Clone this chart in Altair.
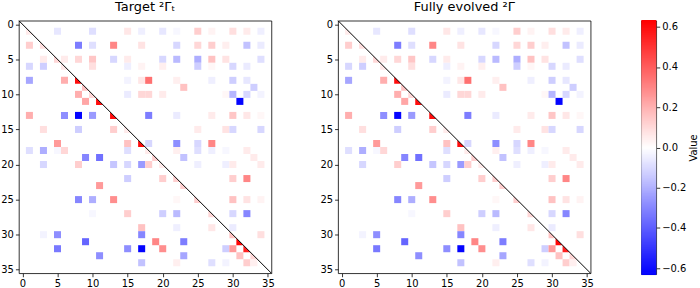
import altair as alt
import numpy as np
import pandas as pd

N = 36  # matrix dimension
FONT = "DejaVu Sans"

# Non-zero matrix elements: row index, column index, value
cell_rows = [
    1, 1, 1, 1, 1, 1, 1, 1, 1, 1, 1, 1,
    3, 3, 3, 3, 3, 3, 3, 3, 3, 3, 3, 3,
    5, 5, 5, 5, 5, 5, 5, 5, 5, 5, 5, 5, 5,
    6, 6, 6, 6, 6, 6, 6, 6, 6, 6, 6,
    8, 8, 8, 8, 8, 8, 8, 8, 8, 8,
    9, 9, 9,
    10, 10, 10, 10, 10, 10, 10, 10, 10, 10,
    11, 11, 11,
    13, 13, 13, 13, 13, 13, 13, 13, 13, 13, 13,
    15, 15, 15, 15, 15, 15, 15, 15,
    17, 17, 17, 17, 17, 17, 17,
    18, 18, 18, 18, 18, 18, 18, 18, 18, 18, 18,
    19, 19, 19, 19, 19,
    20, 20, 20, 20, 20, 20, 20, 20, 20, 20, 20,
    22, 22, 22, 22, 22,
    23, 23,
    25, 25, 25, 25, 25, 25, 25, 25,
    27, 27, 27, 27, 27, 27, 27,
    29, 29, 29, 29,
    30, 30, 30, 30, 30,
    31, 31, 31, 31,
    32, 32, 32, 32, 32, 32, 32,
    33, 33, 33, 33,
    34, 34, 34, 34, 34, 34,
]
cell_cols = [
    1, 5, 10, 15, 17, 20, 22, 25, 27, 30, 32, 34,
    1, 3, 8, 10, 13, 17, 22, 25, 27, 29, 32, 34,
    3, 5, 6, 8, 10, 13, 15, 20, 22, 25, 27, 29, 34,
    1, 3, 6, 10, 15, 17, 20, 25, 27, 30, 32,
    1, 6, 8, 15, 17, 18, 22, 27, 30, 32,
    9, 23, 33,
    8, 10, 15, 17, 18, 20, 29, 30, 32, 34,
    9, 11, 31,
    1, 6, 8, 10, 13, 18, 22, 27, 30, 32, 34,
    3, 8, 13, 15, 25, 29, 30, 34,
    5, 15, 17, 18, 22, 25, 27,
    1, 3, 5, 6, 15, 18, 22, 25, 27, 29, 32,
    9, 11, 19, 23, 33,
    3, 8, 13, 15, 17, 18, 20, 25, 29, 30, 34,
    15, 20, 22, 30, 32,
    11, 23,
    8, 10, 13, 22, 25, 30, 32, 34,
    10, 15, 20, 22, 27, 30, 32,
    17, 22, 27, 30,
    3, 5, 17, 30, 34,
    9, 19, 23, 31,
    5, 15, 17, 20, 29, 30, 32,
    11, 23, 31, 33,
    17, 22, 27, 29, 32, 33,
]
target_values = [
    0.05, -0.06, -0.08, 0.06, -0.04, -0.06, -0.02, 0.12, 0.03, 0.08, 0.05, -0.04,
    0.12, 0.08, -0.32, -0.08, 0.30, 0.07, -0.10, 0.10, 0.12, 0.04, -0.15, -0.05,
    0.05, 0.10, 0.05, 0.10, 0.14, -0.10, 0.05, -0.10, -0.17, -0.20, 0.15, 0.07, -0.08,
    -0.10, -0.12, 0.06, 0.08, -0.04, 0.03, 0.04, -0.12, 0.02, -0.10, -0.05,
    -0.22, 0.20, 0.60, -0.03, 0.06, 0.35, 0.04, -0.04, -0.12, -0.06,
    0.15, 0.15, -0.12,
    0.20, 0.10, -0.05, 0.10, 0.10, 0.05, 0.02, -0.18, -0.10, -0.03,
    0.22, 0.60, -0.62,
    0.20, -0.28, -0.62, -0.25, 0.60, -0.32, -0.05, 0.05, 0.14, 0.06, 0.02,
    0.08, -0.12, 0.12, 0.05, 0.05, 0.07, -0.10, -0.10,
    0.25, 0.15, 0.60, -0.10, -0.28, -0.10, 0.30,
    -0.08, -0.20, -0.02, 0.10, -0.08, 0.05, 0.04, -0.08, -0.04, -0.02, 0.05,
    -0.30, -0.35, 0.12, -0.15, 0.05,
    -0.10, 0.12, -0.14, -0.10, -0.25, 0.12, 0.05, -0.04, -0.04, 0.05, 0.05,
    -0.12, 0.12, 0.12, 0.12, 0.30,
    0.25, 0.12,
    -0.30, -0.20, 0.28, 0.02, 0.12, 0.15, 0.07, 0.03,
    -0.02, 0.12, -0.12, -0.17, 0.10, -0.10, -0.30,
    0.15, -0.04, 0.06, -0.05,
    -0.03, -0.28, -0.30, 0.15, 0.08,
    -0.38, 0.30, -0.32, 0.62,
    -0.33, -0.28, -0.62, 0.28, -0.12, 0.25, 0.55,
    -0.28, -0.22, 0.15, 0.10,
    -0.15, 0.04, -0.08, -0.03, 0.12, 0.04,
]
# the evolved matrix agrees with the target to plotting precision
evolved_values = list(target_values)

titles = ["Target ²Γₜ", "Fully evolved ²Γ"]
tick_values = [0, 5, 10, 15, 20, 25, 30, 35]
cbar_ticks = [-0.6, -0.4, -0.2, 0.0, 0.2, 0.4, 0.6]
vlim = 0.63

PANEL = 254
CELL = PANEL / N

color_scale = alt.Scale(domain=[-vlim, 0, vlim],
                        range=["#0000ff", "#ffffff", "#ff0000"],
                        interpolate="rgb")
x_scale = alt.Scale(domain=[-0.5, N - 0.5], nice=False, zero=False)
y_scale = alt.Scale(domain=[-0.5, N - 0.5], nice=False, zero=False, reverse=True)
x_axis = alt.Axis(values=tick_values, title=None, format="d")
y_axis = alt.Axis(values=tick_values, title=None, format="d")


def panel(values, title):
    df = pd.DataFrame({"row": cell_rows, "col": cell_cols, "value": values})
    df["x0"] = df["col"] - 0.5
    df["x1"] = df["col"] + 0.5
    df["y0"] = df["row"] - 0.5
    df["y1"] = df["row"] + 0.5
    off = df[df["row"] != df["col"]]
    diag = df[df["row"] == df["col"]]

    cells = alt.Chart(off).mark_rect().encode(
        x=alt.X("x0:Q", scale=x_scale, axis=x_axis),
        x2="x1",
        y=alt.Y("y0:Q", scale=y_scale, axis=y_axis),
        y2="y1",
        color=alt.Color("value:Q", scale=color_scale, legend=None),
    )
    # diagonal elements: only the half below the y = x line is filled
    tri = alt.Chart(diag).mark_point(
        shape="M -1 -1 L -1 1 L 1 1 Z", filled=True, opacity=1,
        strokeWidth=0, size=CELL * CELL,
    ).encode(
        x=alt.X("col:Q", scale=x_scale, axis=x_axis),
        y=alt.Y("row:Q", scale=y_scale, axis=y_axis),
        color=alt.Color("value:Q", scale=color_scale, legend=None),
    )
    edge = pd.DataFrame({"a": [-0.5], "b": [N - 0.5]})
    line = alt.Chart(edge).mark_rule(color="black", strokeWidth=1).encode(
        x=alt.X("a:Q", scale=x_scale, axis=x_axis),
        y=alt.Y("a:Q", scale=y_scale, axis=y_axis),
        x2="b", y2="b",
    )
    return alt.layer(cells, tri, line).properties(
        width=PANEL, height=PANEL,
        title=alt.TitleParams(title, fontSize=13, fontWeight="normal",
                              font=FONT, color="black", offset=5),
    )


# colour bar built from evenly spaced levels of the colour scale
levels = np.linspace(-vlim, vlim, 256)
step = levels[1] - levels[0]
cb_df = pd.DataFrame({"level": levels, "lo": levels - step / 2 - 0.001,
                      "hi": levels + step / 2 + 0.001})
cbar = alt.Chart(cb_df).mark_rect().encode(
    x=alt.value(0), x2=alt.value(15),
    y=alt.Y("lo:Q", scale=alt.Scale(domain=[-vlim, vlim], nice=False, zero=False),
            axis=alt.Axis(orient="right", values=cbar_ticks, format=".1f",
                          labelExpr="replace(datum.label, '-', '−')",
                          title="Value", titleAngle=270, titleFontSize=10,
                          titleFontWeight="normal", titleFont=FONT,
                          titleColor="black", titlePadding=13)),
    y2="hi",
    color=alt.Color("level:Q", scale=color_scale, legend=None),
).properties(width=15, height=255)

maps = alt.hconcat(panel(target_values, titles[0]), panel(evolved_values, titles[1]),
                   spacing=44)
chart = alt.hconcat(maps, cbar, spacing=46).properties(
    padding={"left": 0, "top": 0, "right": 0, "bottom": 0},
    background="white",
).configure_view(
    stroke="black", strokeWidth=0.8,
).configure_axis(
    labelFont=FONT, labelFontSize=10, labelColor="black", labelPadding=2,
    tickColor="black", tickSize=3.5, tickWidth=0.8, domain=False, grid=False,
)

chart.save("out.html", embed_options={"renderer": "svg", "actions": False})
